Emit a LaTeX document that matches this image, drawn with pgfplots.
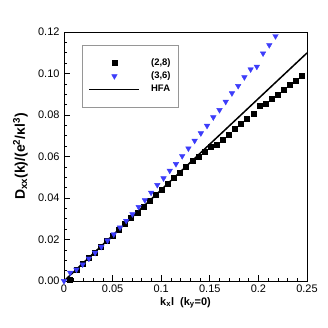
\documentclass[border=0pt]{standalone}
\usepackage{fontspec}
\setmainfont{Liberation Sans}
\usepackage{pgfplots}
\pgfplotsset{compat=1.18}
\definecolor{triblue}{RGB}{60,60,250}
\definecolor{legframe}{RGB}{150,150,150}

\begin{document}
\begin{tikzpicture}
\path[use as bounding box] (-64bp,-47bp) rectangle (264bp,281bp);
\begin{axis}[
    width=243bp, height=249bp, scale only axis,
    xmin=0, xmax=0.25, ymin=0, ymax=0.12,
    axis line style={line width=0.8bp},
    xtick={0,0.05,0.1,0.15,0.2,0.25},
    xticklabels={0,0.05,0.1,0.15,0.2,0.25},
    ytick={0,0.02,0.04,0.06,0.08,0.1,0.12},
    yticklabel style={xshift=-1bp, /pgf/number format/.cd, fixed, fixed zerofill, precision=2},
    /pgf/number format/assume math mode=true,
    minor x tick num=4, minor y tick num=3,
    tick align=inside,
    xtick pos=bottom, ytick pos=left,
    major tick length=6bp, minor tick length=3bp,
    tick style={black, line width=0.6bp},
    tick label style={font=\fontsize{11}{13}\selectfont},
    xlabel={\textbf{k\textsubscript{x}l\ \ (k\textsubscript{y}=0)}},
    ylabel={\textbf{D\textsubscript{xx}(k)/(e\textsuperscript{2}/κl\textsuperscript{3})}},
    xlabel style={font=\fontsize{11}{13}\selectfont, at={(rel axis cs:0.5,0)}, anchor=base, yshift=-24bp},
    every axis y label/.style={at={(rel axis cs:0,0.5)}, xshift=-39bp, rotate=90, anchor=base,
        font=\fontsize{14}{16}\selectfont},
    legend style={at={(0.076,0.948)}, anchor=north west, draw=legframe,
        inner xsep=6bp, inner ysep=11.5bp,
        font=\fontsize{9.5}{11}\selectfont\bfseries, row sep=1bp},
    legend cell align=left,
    legend image code/.code={\draw[mark repeat=2,mark phase=2,#1] plot coordinates {(0bp,0bp)(25bp,0bp)(50bp,0bp)};},
    /tikz/every odd column/.append style={column sep=9bp},
]
% (2,8)
\addplot[only marks, mark=square*, mark size=2.5bp, black] coordinates {
 (0.0063,0.0005)(0.0126,0.0054)(0.0188,0.0082)(0.0251,0.0110)(0.0314,0.0138)
 (0.0377,0.0165)(0.0440,0.0193)(0.0502,0.0220)(0.0565,0.0248)(0.0628,0.0276)
 (0.0691,0.0303)(0.0754,0.0331)(0.0816,0.0358)(0.0879,0.0386)(0.0942,0.0414)
 (0.1005,0.0441)(0.1068,0.0469)(0.1130,0.0496)(0.1193,0.0523)(0.1256,0.0550)
 (0.1319,0.0578)(0.1382,0.0600)(0.1444,0.0625)(0.1507,0.0645)(0.1570,0.0658)
 (0.1633,0.0681)(0.1696,0.0706)(0.1759,0.0732)(0.1821,0.0757)(0.1884,0.0780)
 (0.1947,0.0805)(0.2010,0.0845)(0.2073,0.0853)(0.2135,0.0877)(0.2198,0.0900)
 (0.2261,0.0921)(0.2324,0.0944)(0.2387,0.0966)(0.2450,0.0988)
};
% (3,6)
\addplot[only marks, mark=triangle*, mark size=3.2bp, triblue, mark options={rotate=180}] coordinates {
 (0,0)(0.0064,0.0040)(0.0128,0.0055)(0.0192,0.0080)(0.0256,0.0108)(0.0320,0.0136)
 (0.0384,0.0165)(0.0448,0.0195)(0.0512,0.0225)(0.0576,0.0258)(0.0640,0.0290)
 (0.0704,0.0322)(0.0768,0.0357)(0.0832,0.0390)(0.0896,0.0426)(0.0960,0.0463)
 (0.1024,0.0495)(0.1088,0.0532)(0.1152,0.0564)(0.1216,0.0602)(0.1280,0.0639)
 (0.1344,0.0676)(0.1408,0.0712)(0.1472,0.0748)(0.1536,0.0789)(0.1600,0.0824)
 (0.1664,0.0864)(0.1728,0.0905)(0.1792,0.0940)(0.1856,0.0982)(0.1920,0.1020)
 (0.1984,0.1033)(0.2048,0.1097)(0.2112,0.1137)(0.2176,0.1180)
};
% HFA
\addplot[black, line width=1.5bp, no marks,
    legend image code/.code={\draw[black, line width=1.5bp] (0bp,0bp) -- (50bp,0bp);}]
    coordinates {(0,0)(0.25,0.1099)};
\legend{(2,8),(3,6),HFA}
\end{axis}
\end{tikzpicture}
\end{document}
